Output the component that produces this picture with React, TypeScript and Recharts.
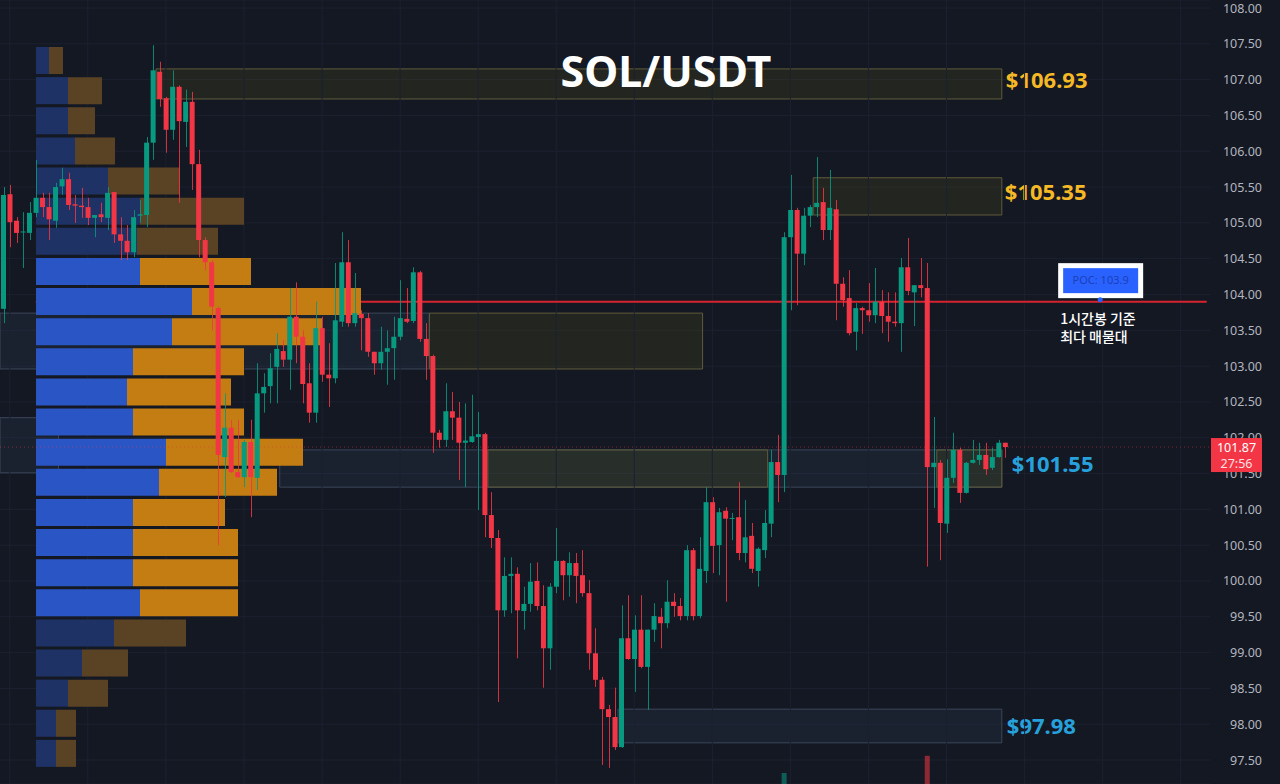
import {
  Bar,
  BarChart,
  CartesianGrid,
  Cell,
  ComposedChart,
  ReferenceArea,
  ReferenceDot,
  ReferenceLine,
  XAxis,
  YAxis,
} from "recharts";

const W = 1280;
const H = 784;
const BG = "#141823";
const GRID = "#1c2130";
const UP = "#089981";
const DOWN = "#f23645";
const FONT = "'Noto Sans', sans-serif";
const KR_FONT = "'Noto Sans CJK KR', 'Noto Sans', sans-serif";

// SOL/USDT candles, oldest first
const opens = [
  103.8, 105.4, 105.03, 104.87, 104.86, 105.14, 105.35, 105.22, 105.03, 105.51,
  105.61, 105.26, 105.24, 105.22, 105.07, 105.12, 105.07, 105.43, 104.84, 104.75,
  104.59, 105.1, 105.11, 106.12, 107.11, 106.74, 106.3, 106.9, 106.41, 106.69,
  105.82, 104.76, 104.45, 103.81, 101.73, 102.14, 101.52, 101.45, 101.94, 101.44,
  102.62, 102.72, 102.99, 103.21, 103.09, 103.69, 103.41, 102.76, 102.35, 103.53,
  102.88, 102.83, 103.62, 104.45, 103.6, 103.73, 103.67, 103.2, 103.04, 103.2,
  103.25, 103.41, 103.66, 103.63, 104.31, 103.38, 103.14, 102.07, 101.97, 102.37,
  102.28, 101.93, 101.94, 102.01, 102.05, 100.92, 100.6, 99.59, 100.07, 100.1,
  99.58, 99.68, 100.0, 99.65, 99.06, 99.92, 100.28, 100.08, 100.25, 100.08,
  99.83, 98.99, 98.62, 98.21, 98.1, 97.68, 99.2, 98.91, 99.32, 98.8,
  99.32, 99.5, 99.41, 99.71, 99.65, 99.51, 100.43, 99.51, 100.14, 101.1,
  100.5, 100.98, 100.87, 100.89, 100.39, 100.63, 100.14, 100.43, 100.8, 101.66,
  101.48, 104.8, 105.18, 104.57, 105.1, 105.22, 105.29, 104.9, 105.19, 104.15,
  103.95, 103.48, 103.81, 103.78, 103.71, 103.9, 103.7, 103.62, 103.6, 104.38,
  104.03, 104.13, 104.09, 101.59, 101.65, 100.8, 101.44, 101.83, 101.23, 101.65,
  101.69, 101.76, 101.58, 101.73, 101.93,
];
const highs = [
  105.5, 105.53, 105.08, 105.15, 105.29, 105.88, 105.42, 105.42, 105.56, 105.77,
  105.7, 105.39, 105.49, 105.35, 105.11, 105.28, 105.5, 105.43, 105.08, 104.97,
  105.18, 105.32, 106.2, 107.48, 107.25, 106.76, 107.13, 106.92, 106.86, 106.83,
  106.02, 104.8, 104.48, 103.83, 102.62, 102.25, 102.25, 101.97, 102.25, 103.04,
  102.9, 103.18, 103.46, 103.36, 104.09, 104.17, 103.5, 103.04, 103.9, 103.69,
  103.32, 104.44, 104.87, 104.76, 104.3, 103.78, 103.74, 103.2, 103.55, 103.5,
  103.69, 104.2, 104.09, 104.38, 104.33, 103.6, 103.16, 102.11, 102.76, 102.64,
  102.5, 102.48, 102.6, 102.36, 102.07, 101.24, 100.71, 100.33, 100.33, 100.19,
  99.92, 100.25, 100.26, 99.94, 99.97, 100.74, 100.29, 100.4, 100.39, 100.43,
  100.01, 99.34, 98.66, 98.27, 98.51, 99.66, 99.8, 99.52, 99.8, 99.32,
  99.69, 99.62, 100.01, 99.83, 99.76, 100.5, 100.46, 100.61, 101.31, 101.17,
  101.02, 101.03, 100.95, 101.38, 101.13, 100.81, 100.47, 100.99, 101.83, 102.04,
  104.87, 105.67, 105.21, 105.21, 105.25, 105.92, 105.49, 105.74, 105.32, 104.24,
  104.34, 103.88, 103.83, 104.16, 104.37, 104.06, 104.03, 104.03, 104.51, 104.79,
  104.13, 104.51, 104.44, 102.29, 101.69, 101.7, 102.07, 101.86, 101.66, 101.97,
  101.93, 101.93, 101.86, 101.97, 101.93,
];
const lows = [
  103.6, 104.66, 104.72, 104.37, 104.76, 105.08, 105.08, 104.76, 104.93, 105.39,
  105.18, 105.0, 105.07, 104.97, 104.8, 105.01, 104.9, 104.72, 104.48, 104.48,
  104.52, 105.0, 104.94, 105.88, 106.62, 105.98, 106.16, 105.28, 106.06, 105.46,
  104.52, 104.34, 103.5, 100.5, 101.17, 101.51, 101.44, 101.31, 100.89, 101.27,
  102.35, 102.48, 102.48, 102.99, 102.67, 103.04, 102.48, 102.21, 102.21, 102.78,
  102.43, 102.76, 103.55, 103.55, 103.55, 103.22, 103.13, 102.88, 102.95, 102.74,
  102.81, 103.36, 103.6, 103.6, 103.34, 102.81, 101.79, 101.86, 101.87, 101.97,
  101.41, 101.31, 101.93, 100.99, 100.61, 100.46, 98.31, 99.5, 99.55, 98.92,
  99.32, 99.57, 99.59, 98.51, 98.76, 99.83, 99.73, 99.78, 99.69, 99.78,
  98.76, 98.52, 97.43, 97.39, 97.64, 97.67, 98.9, 98.45, 98.78, 98.2,
  99.15, 99.06, 99.34, 99.5, 99.45, 99.45, 99.45, 99.48, 99.97, 100.11,
  100.08, 99.71, 100.57, 100.29, 100.26, 100.11, 99.92, 100.32, 100.61, 101.1,
  101.24, 103.78, 103.85, 104.41, 104.94, 105.08, 104.76, 104.76, 103.64, 103.83,
  103.43, 103.22, 103.45, 103.62, 103.6, 103.46, 103.34, 103.55, 103.2, 103.99,
  103.56, 103.96, 100.2, 101.02, 100.29, 100.67, 101.37, 101.09, 101.22, 101.64,
  101.62, 101.48, 101.55, 101.72, 101.72,
];
const closes = [
  105.39, 105.01, 104.86, 104.88, 105.14, 105.35, 105.22, 105.05, 105.5, 105.61,
  105.25, 105.24, 105.22, 105.07, 105.11, 105.08, 105.42, 104.84, 104.75, 104.59,
  105.08, 105.12, 106.12, 107.13, 106.73, 106.3, 106.9, 106.42, 106.69, 105.82,
  104.76, 104.45, 103.83, 101.76, 102.14, 101.52, 101.45, 101.94, 101.45, 102.62,
  102.71, 102.97, 103.24, 103.09, 103.69, 103.41, 102.75, 102.35, 103.53, 102.88,
  102.83, 103.64, 104.45, 103.6, 103.74, 103.67, 103.2, 103.04, 103.2, 103.25,
  103.41, 103.67, 103.62, 104.31, 103.38, 103.14, 102.07, 101.97, 102.37, 102.28,
  101.93, 101.96, 102.02, 102.05, 100.92, 100.6, 99.59, 100.07, 100.1, 99.59,
  99.68, 99.99, 99.65, 99.06, 99.92, 100.28, 100.08, 100.25, 100.07, 99.83,
  98.99, 98.62, 98.21, 98.1, 97.68, 99.2, 98.91, 99.32, 98.8, 99.32,
  99.51, 99.41, 99.71, 99.65, 99.51, 100.43, 99.51, 100.17, 101.1, 100.49,
  100.96, 100.87, 100.88, 100.39, 100.61, 100.17, 100.45, 100.81, 101.66, 101.48,
  104.8, 105.18, 104.57, 105.1, 105.22, 105.28, 104.9, 105.21, 104.15, 103.92,
  103.46, 103.81, 103.78, 103.71, 103.9, 103.7, 103.62, 103.6, 104.38, 104.05,
  104.13, 104.09, 101.59, 101.65, 100.81, 101.44, 101.83, 101.23, 101.65, 101.69,
  101.76, 101.56, 101.73, 101.93, 101.87,
];

// empty slots to the right of the last candle
const FUTURE_SLOTS = 31;

// only the two tallest volume bars reach into the window
const volIdx = [120, 142];
const volVal = [14, 36];

const priceTicks = [
  97.5, 98, 98.5, 99, 99.5, 100, 100.5, 101, 101.5, 102, 102.5, 103, 103.5,
  104, 104.5, 105, 105.5, 106, 106.5, 107, 107.5, 108,
];
const Y_DOMAIN: [number, number] = [97.165, 108.112];
const gridIdx = [1, 13, 25, 37, 49, 61, 73, 85, 97, 109, 121, 133, 145, 157, 169, 181];

const POC = 103.9;
const POC_SLOT = 169;
const COUNTDOWN = "27:56";

// volume profile, top bin first
const vpLevels = [
  "107.27", "106.85", "106.43", "106.01", "105.59", "105.17", "104.75", "104.33",
  "103.91", "103.49", "103.07", "102.65", "102.23", "101.81", "101.39", "100.97",
  "100.55", "100.13", "99.71", "99.29", "98.87", "98.45", "98.03", "97.61",
];
const vpBuy = [13, 32, 32, 39, 72, 104, 101, 104, 156, 136, 97, 91, 97, 130, 123, 97, 97, 97, 104, 78, 46, 32, 20, 20];
const vpSell = [14, 34, 27, 40, 72, 104, 81, 111, 169, 150, 111, 104, 111, 137, 118, 92, 105, 105, 98, 72, 46, 40, 20, 20];
const VALUE_AREA = [7, 18];

// marked zones: slot range, price range
type Zone = { x1: number; x2: number; lo: number; hi: number; kind: "olive" | "blue"; tag?: string };
const zones: Zone[] = [
  { x1: 0, x2: 8, lo: 101.51, hi: 102.28, kind: "blue" },
  { x1: 0, x2: 65, lo: 102.96, hi: 103.74, kind: "blue" },
  { x1: 66, x2: 107, lo: 102.96, hi: 103.74, kind: "olive" },
  { x1: 43, x2: 153, lo: 101.31, hi: 101.83, kind: "blue", tag: "$101.55" },
  { x1: 75, x2: 117, lo: 101.31, hi: 101.83, kind: "olive" },
  { x1: 144, x2: 153, lo: 101.31, hi: 101.83, kind: "olive" },
  { x1: 24, x2: 153, lo: 106.73, hi: 107.15, kind: "olive", tag: "$106.93" },
  { x1: 125, x2: 153, lo: 105.11, hi: 105.63, kind: "olive", tag: "$105.35" },
  { x1: 95, x2: 153, lo: 97.74, hi: 98.21, kind: "blue", tag: "$97.98" },
];

const rows = Array.from({ length: opens.length + FUTURE_SLOTS }, (_, i) => {
  const has = i < opens.length;
  const v = volIdx.indexOf(i);
  return {
    i,
    o: has ? opens[i] : null,
    h: has ? highs[i] : null,
    l: has ? lows[i] : null,
    c: has ? closes[i] : null,
    range: has ? [lows[i], highs[i]] : null,
    vol: v >= 0 ? volVal[v] : null,
  };
});

const vpRows = vpLevels.map((lvl, k) => ({ lvl, buy: vpBuy[k], sell: vpSell[k] }));

function Candle(props: any) {
  const { x, y, width, height, payload } = props;
  if (!payload || payload.o == null || !isFinite(y) || !isFinite(height)) return <g />;
  const { o, h, l, c } = payload;
  const top = Math.min(y, y + height);
  const span = Math.abs(height);
  const k = span / (h - l);
  const color = c >= o ? UP : DOWN;
  const bodyTop = top + (h - Math.max(o, c)) * k;
  const bodyH = Math.max(1, Math.abs(o - c) * k);
  const cx = Math.round(x + width / 2) + 0.5;
  return (
    <g>
      <line x1={cx} x2={cx} y1={top} y2={top + span} stroke={color} strokeWidth={1} opacity={0.85} />
      <rect x={x} y={bodyTop} width={width} height={bodyH} fill={color} />
    </g>
  );
}

function PriceTick(props: any) {
  const { x, y, payload } = props;
  return (
    <text x={x + 44} y={y} dy={4.5} textAnchor="end" fill="#b2b5be" fontSize={12.5} fontFamily={FONT}>
      {Number(payload.value).toFixed(2)}
    </text>
  );
}

const TAG_STYLE: Record<string, { color: string; dx: number; dy: number }> = {
  "$106.93": { color: "#f5b925", dx: 4, dy: -4 },
  "$105.35": { color: "#f5b925", dx: 3, dy: -4 },
  "$101.55": { color: "#27a1db", dx: 10, dy: -5 },
  "$97.98": { color: "#27a1db", dx: 5, dy: 0 },
};

function ZoneTag(props: any) {
  const { viewBox, text } = props;
  if (!viewBox) return null;
  const s = TAG_STYLE[text];
  const cy = viewBox.y + viewBox.height / 2 + s.dy;
  return (
    <text x={viewBox.x + viewBox.width + s.dx} y={cy + 8} fill={s.color} fontSize={22} fontWeight={700} fontFamily={FONT}>
      {text}
    </text>
  );
}

function LastPriceTag(props: any) {
  const { viewBox } = props;
  if (!viewBox) return null;
  const x = viewBox.x + viewBox.width + 1;
  const y = viewBox.y;
  return (
    <g>
      <rect x={x} y={y - 9} width={51} height={34} fill={DOWN} />
      <text x={x + 25.5} y={y + 4.5} textAnchor="middle" fill="#fff" fontSize={12.5} fontFamily={FONT}>
        {closes[closes.length - 1].toFixed(2)}
      </text>
      <text x={x + 25.5} y={y + 21} textAnchor="middle" fill="#ffe0e3" fontSize={12.5} fontFamily={FONT}>
        {COUNTDOWN}
      </text>
    </g>
  );
}

function PocNote(props: any) {
  const { cx, cy } = props;
  return (
    <g>
      <rect x={cx - 44.5} y={cy - 38.5} width={85} height={35} fill="#ffffff" />
      <rect x={cx - 39.5} y={cy - 33.5} width={75} height={25} fill="#2962ff" />
      <text x={cx - 2} y={cy - 17.5} textAnchor="middle" fill="#1c40b8" fontSize={11} fontFamily={FONT}>
        {`POC: ${POC}`}
      </text>
      <circle cx={cx - 2.5} cy={cy - 2} r={2.5} fill="#2962ff" />
      <text x={cx - 42.5} y={cy + 22} fill="#ffffff" fontSize={14} fontWeight={500} fontFamily={KR_FONT}>
        1시간봉 기준
      </text>
      <text x={cx - 42.5} y={cy + 40} fill="#ffffff" fontSize={14} fontWeight={500} fontFamily={KR_FONT}>
        최다 매물대
      </text>
    </g>
  );
}

const ZONE_FILL = { olive: "rgba(110,108,20,0.17)", blue: "rgba(60,85,115,0.16)" };
const ZONE_STROKE = { olive: "#5f5b3b", blue: "#3a4659" };

export default function App() {
  const layer = { position: "absolute" as const, left: 0, top: 0 };
  return (
    <div style={{ position: "absolute", left: 0, top: 0, width: W, height: H, background: BG, overflow: "hidden" }}>
      {/* grid, zones, POC line, price scale */}
      <div style={layer}>
        <ComposedChart width={W} height={H} data={rows} margin={{ top: 0, right: 0, bottom: 0, left: 0 }}>
          <CartesianGrid vertical={false} stroke={GRID} />
          <XAxis dataKey="i" type="category" hide />
          <YAxis
            orientation="right"
            width={70}
            domain={Y_DOMAIN}
            allowDataOverflow
            ticks={priceTicks}
            interval={0}
            axisLine={false}
            tickLine={false}
            tickSize={6}
            tickMargin={2}
            tick={(p: any) => <PriceTick {...p} />}
          />
          <YAxis yAxisId="vol" hide domain={[0, 1000]} allowDataOverflow />
          {gridIdx.map((g) => (
            <ReferenceLine key={`g${g}`} x={g} stroke={GRID} strokeWidth={1} />
          ))}
          {zones.map((z, k) => (
            <ReferenceArea
              key={`z${k}`}
              x1={z.x1}
              x2={z.x2}
              y1={z.lo}
              y2={z.hi}
              fill={ZONE_FILL[z.kind]}
              fillOpacity={1}
              stroke={ZONE_STROKE[z.kind]}
              strokeWidth={1}
              ifOverflow="visible"
              label={z.tag ? <ZoneTag text={z.tag} /> : undefined}
            />
          ))}
          <ReferenceLine
            segment={[
              { x: 5, y: POC },
              { x: rows.length - 1, y: POC },
            ]}
            stroke="#d5232f"
            strokeWidth={2}
          />
          <Bar dataKey="vol" yAxisId="vol" barSize={5} isAnimationActive={false}>
            {rows.map((r) => (
              <Cell key={r.i} fill={r.c != null && r.o != null && r.c >= r.o ? "rgba(8,153,129,0.55)" : "rgba(242,54,69,0.55)"} />
            ))}
          </Bar>
        </ComposedChart>
      </div>

      {/* volume profile */}
      <div style={{ position: "absolute", left: 36, top: 45 }}>
        <BarChart width={400} height={723} data={vpRows} layout="vertical" margin={{ top: 0, right: 0, bottom: 0, left: 0 }}>
          <XAxis type="number" domain={[0, 400]} hide />
          <YAxis type="category" dataKey="lvl" hide />
          <Bar dataKey="buy" stackId="vp" barSize={27} isAnimationActive={false}>
            {vpRows.map((r, k) => (
              <Cell key={r.lvl} fill={k >= VALUE_AREA[0] && k <= VALUE_AREA[1] ? "#2a55c4" : "#1e3265"} />
            ))}
          </Bar>
          <Bar dataKey="sell" stackId="vp" barSize={27} isAnimationActive={false}>
            {vpRows.map((r, k) => (
              <Cell key={r.lvl} fill={k >= VALUE_AREA[0] && k <= VALUE_AREA[1] ? "#c47d12" : "#5a4224"} />
            ))}
          </Bar>
        </BarChart>
      </div>

      {/* candles and notes */}
      <div style={layer}>
        <ComposedChart width={W} height={H} data={rows} margin={{ top: 0, right: 70, bottom: 0, left: 0 }}>
          <XAxis dataKey="i" type="category" hide />
          <YAxis hide domain={Y_DOMAIN} allowDataOverflow />
          <ReferenceLine
            y={closes[closes.length - 1]}
            stroke={DOWN}
            strokeOpacity={0.5}
            strokeDasharray="1 3"
            label={<LastPriceTag />}
          />
          <Bar dataKey="range" barSize={5} shape={(p: any) => <Candle {...p} />} isAnimationActive={false} />
          <ReferenceDot x={POC_SLOT} y={POC} r={0} ifOverflow="visible" shape={(p: any) => <PocNote {...p} />} />
        </ComposedChart>
      </div>

      <div
        style={{
          position: "absolute",
          left: 466,
          top: 49,
          width: 400,
          textAlign: "center",
          color: "#ffffff",
          fontFamily: FONT,
          fontWeight: 700,
          fontSize: 43,
          lineHeight: 1,
        }}
      >
        SOL/USDT
      </div>
    </div>
  );
}
